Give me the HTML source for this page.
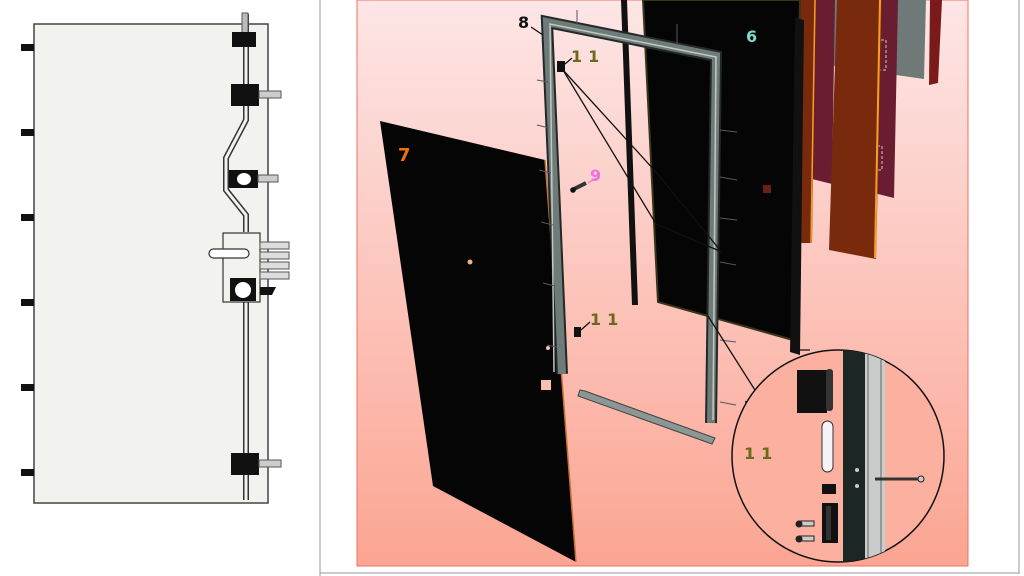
<!DOCTYPE html>
<html><head><style>
html,body{margin:0;padding:0;background:#fff;width:1024px;height:576px;overflow:hidden}
svg{display:block}
</style></head><body>
<svg width="1024" height="576" viewBox="0 0 1024 576" xmlns="http://www.w3.org/2000/svg" font-family="'DejaVu Sans','Liberation Sans',sans-serif">
<defs>
<linearGradient id="bg" x1="0" y1="0" x2="0" y2="1">
<stop offset="0" stop-color="#fde6e6"/><stop offset="0.5" stop-color="#fcc5bc"/><stop offset="1" stop-color="#fba592"/>
</linearGradient>
<clipPath id="cc"><circle cx="838" cy="456" r="106"/></clipPath>
</defs>
<rect width="1024" height="576" fill="#fff"/>
<!-- left drawing -->
<rect x="34" y="24" width="234" height="479" fill="#f2f2ef" stroke="#444" stroke-width="1.5"/>
<g fill="#111">
<rect x="21" y="44" width="13" height="7"/><rect x="21" y="129" width="13" height="7"/><rect x="21" y="214" width="13" height="7"/>
<rect x="21" y="299" width="13" height="7"/><rect x="21" y="384" width="13" height="7"/><rect x="21" y="469" width="13" height="7"/>
</g>
<path d="M246 14 V120 L226 158 V190 L246 215 V232" fill="none" stroke="#333" stroke-width="6"/>
<path d="M246 14 V120 L226 158 V190 L246 215 V232" fill="none" stroke="#f2f2ef" stroke-width="3"/>
<line x1="246" y1="300" x2="246" y2="500" stroke="#333" stroke-width="6"/>
<line x1="246" y1="300" x2="246" y2="500" stroke="#f2f2ef" stroke-width="3"/>
<rect x="242" y="13" width="6" height="20" fill="#bbb" stroke="#555"/>
<rect x="232" y="32" width="24" height="15" fill="#111"/>
<rect x="231" y="84" width="28" height="22" fill="#111"/><rect x="259" y="91" width="22" height="7" fill="#ccc" stroke="#555"/>
<rect x="229" y="170" width="29" height="18" fill="#111"/><ellipse cx="244" cy="179" rx="7" ry="6" fill="#fff"/><rect x="258" y="175" width="20" height="7" fill="#ccc" stroke="#555"/>
<rect x="223" y="233" width="37" height="69" fill="#f2f2ef" stroke="#333" stroke-width="1.2"/>
<rect x="209" y="249" width="40" height="9" rx="4.5" fill="#fff" stroke="#333" stroke-width="1.2"/>
<rect x="260" y="242" width="29" height="7" fill="#ddd" stroke="#555"/><rect x="260" y="252" width="29" height="7" fill="#ddd" stroke="#555"/>
<rect x="260" y="262" width="29" height="7" fill="#ddd" stroke="#555"/><rect x="260" y="272" width="29" height="7" fill="#ddd" stroke="#555"/>
<rect x="230" y="278" width="26" height="23" fill="#111"/><ellipse cx="243" cy="290" rx="8" ry="8" fill="#fff"/>
<path d="M260 287 H276 L272 295 H260 Z" fill="#111"/>
<rect x="231" y="453" width="28" height="22" fill="#111"/><rect x="259" y="460" width="22" height="7" fill="#ccc" stroke="#555"/>
<!-- right panel -->
<line x1="320" y1="0" x2="320" y2="576" stroke="#999" stroke-width="1"/>
<line x1="1019" y1="0" x2="1019" y2="574" stroke="#999" stroke-width="1"/>
<line x1="320" y1="573" x2="1019" y2="573" stroke="#999" stroke-width="1"/>
<rect x="357" y="0" width="611" height="566" fill="url(#bg)" stroke="#f07060" stroke-width="1"/>
<polygon points="930,0 942,0 938,83 929,85" fill="#7a1a1a"/>
<polygon points="834,0 926,0 924,79 834,66" fill="#6f7a78"/>
<polygon points="811,0 835,0 832,184 808,178" fill="#6a1c30"/>
<polygon points="873,0 898,0 894,198 870,192" fill="#6a1c30"/>
<rect x="866" y="40" width="20" height="30" fill="none" stroke="#ccc" stroke-dasharray="3,2"/>
<rect x="862" y="146" width="20" height="24" fill="none" stroke="#ccc" stroke-dasharray="3,2"/>
<polygon points="837,0 882,0 876,259 829,250" fill="#7a2a0c"/>
<line x1="880" y1="0" x2="875" y2="258" stroke="#f7a020" stroke-width="2"/>
<polygon points="795,0 816,0 812,243 790,243" fill="#7a2a0c"/>
<line x1="815" y1="0" x2="811" y2="243" stroke="#f7a020" stroke-width="1.5"/>
<!-- door 6 -->
<polygon points="643,0 800,0 793,340 658,302" fill="#050505" stroke="#3a3418" stroke-width="2"/>
<rect x="763" y="185" width="8" height="8" fill="#6a2018"/>
<polygon points="795,18 804,20 800,355 790,352" fill="#111"/>
<polygon points="621,0 627,0 638,305 632,305" fill="#111"/>
<!-- door 7 -->
<polygon points="380,121 545,160 576,562 433,486" fill="#050505"/>
<line x1="545" y1="160" x2="576" y2="562" stroke="#c97030" stroke-width="1.5"/>
<circle cx="470" cy="262" r="2.5" fill="#f0b080"/>
<rect x="541" y="380" width="10" height="10" fill="#f8c0b0"/>
<circle cx="548" cy="348" r="2" fill="#f8c0b0"/>
<!-- frame 8 -->
<polyline points="562,374 547,22 716,56 711,423" fill="none" stroke="#222a28" stroke-width="12" stroke-linejoin="miter"/>
<polyline points="562,374 547,22 716,56 711,423" fill="none" stroke="#6f7b79" stroke-width="8" stroke-linejoin="miter"/>
<polyline points="554,372 550,24 716,57 713,420" fill="none" stroke="#c0c8c4" stroke-width="1.5"/>
<g stroke="#556" stroke-width="1">
<line x1="577" y1="10" x2="577" y2="25"/><line x1="677" y1="24" x2="677" y2="45"/>
<line x1="537" y1="80" x2="548" y2="82"/><line x1="537" y1="125" x2="549" y2="128"/><line x1="539" y1="170" x2="551" y2="173"/>
<line x1="541" y1="222" x2="553" y2="225"/><line x1="543" y1="283" x2="555" y2="286"/><line x1="547" y1="345" x2="557" y2="347"/>
<line x1="720" y1="130" x2="737" y2="132"/><line x1="720" y1="177" x2="737" y2="180"/><line x1="720" y1="218" x2="737" y2="220"/>
<line x1="720" y1="262" x2="736" y2="265"/><line x1="720" y1="340" x2="736" y2="342"/><line x1="720" y1="402" x2="736" y2="405"/>
</g>
<rect x="557" y="61" width="8" height="11" fill="#111"/>
<rect x="574" y="327" width="7" height="10" fill="#111"/>
<polygon points="580,390 585,391 715,438 712,444 578,396" fill="#8c9694" stroke="#3a4442" stroke-width="1"/>
<line x1="574" y1="189" x2="586" y2="183" stroke="#333" stroke-width="4"/>
<circle cx="573" cy="190" r="2.8" fill="#111"/>
<g stroke="#111" stroke-width="1.3" fill="none">
<polyline points="563,70 656,172 720,250"/>
<polyline points="563,70 656,224 722,252"/>
<polyline points="708,316 760,398 745,402"/>
<polyline points="790,350 810,350"/>
<line x1="531" y1="27" x2="543" y2="35"/>
<line x1="565" y1="64" x2="572" y2="58"/>
<line x1="581" y1="330" x2="590" y2="322"/>
<line x1="588" y1="183" x2="596" y2="178" stroke="#f070e0"/>
</g>
<!-- detail circle -->
<circle cx="838" cy="456" r="106" fill="#fcb0a0" stroke="#111" stroke-width="1.5"/>
<g clip-path="url(#cc)">
<rect x="843" y="340" width="22" height="240" fill="#1c2624"/>
<rect x="865" y="340" width="20" height="240" fill="#c8ccca"/>
<line x1="868" y1="340" x2="868" y2="580" stroke="#666" stroke-width="1"/>
<line x1="881" y1="340" x2="881" y2="580" stroke="#666" stroke-width="1"/>
</g>
<rect x="797" y="370" width="30" height="43" fill="#111"/><rect x="826" y="369" width="7" height="42" rx="3" fill="#333"/>
<rect x="822" y="421" width="11" height="51" rx="5.5" fill="#f4f4f4" stroke="#333"/>
<rect x="822" y="484" width="14" height="10" fill="#111"/>
<rect x="822" y="503" width="16" height="40" fill="#111"/><rect x="826" y="506" width="5" height="34" fill="#333"/>
<g fill="#ccc" stroke="#222"><rect x="800" y="521" width="14" height="5"/><rect x="800" y="536" width="14" height="5"/></g>
<circle cx="799" cy="524" r="3.5" fill="#222"/><circle cx="799" cy="539" r="3.5" fill="#222"/>
<line x1="875" y1="479" x2="920" y2="479" stroke="#333" stroke-width="3"/>
<circle cx="921" cy="479" r="3" fill="#ccc" stroke="#222"/>
<circle cx="857" cy="470" r="2" fill="#ccc"/><circle cx="857" cy="486" r="2" fill="#ccc"/>
<!-- labels -->
<text x="398" y="161" font-size="18" font-weight="bold" fill="#f07010">7</text>
<text x="518" y="28" font-size="16" font-weight="bold" fill="#111">8</text>
<text x="746" y="42" font-size="16" font-weight="bold" fill="#7fd8c8">6</text>
<text x="590" y="181" font-size="16" font-weight="bold" fill="#f070e0">9</text>
<text x="571" y="62" font-size="16" font-weight="bold" fill="#6a6a18" letter-spacing="6">11</text>
<text x="590" y="325" font-size="16" font-weight="bold" fill="#6a6a18" letter-spacing="6">11</text>
<text x="744" y="459" font-size="16" font-weight="bold" fill="#6a6a18" letter-spacing="6">11</text>
</svg>
</body></html>
